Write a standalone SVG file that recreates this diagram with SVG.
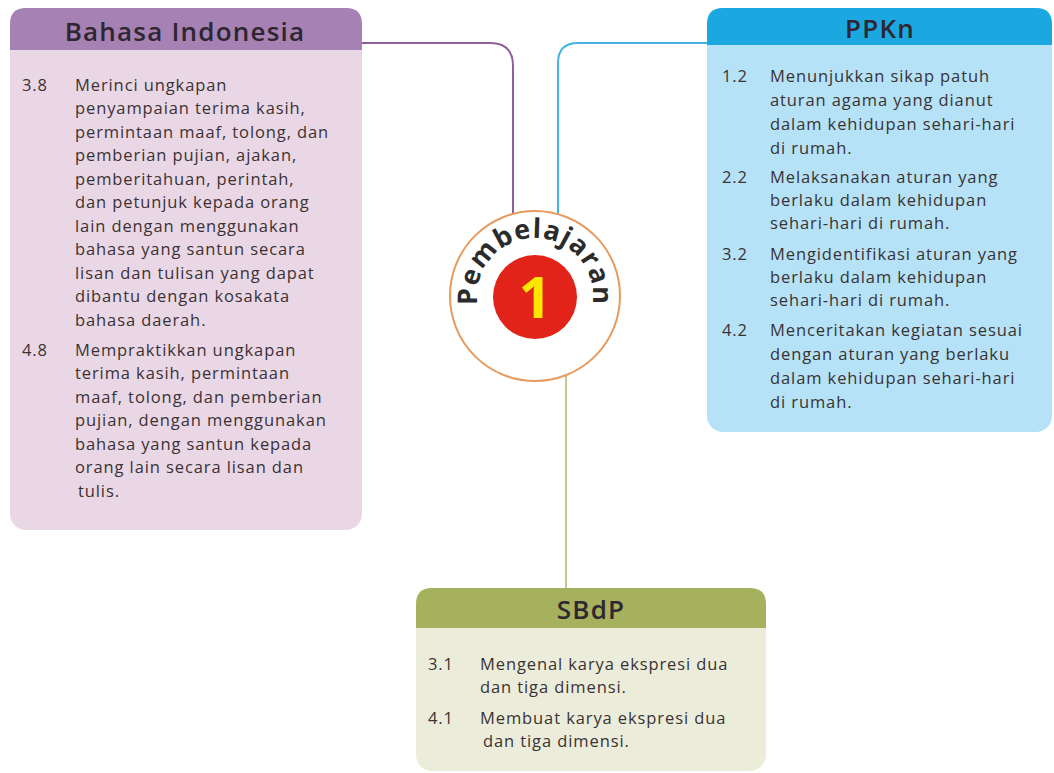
<svg xmlns="http://www.w3.org/2000/svg" width="1054" height="773" viewBox="0 0 1054 773">
<style>
.hd{font-family:"Open Sans","Liberation Sans",sans-serif;font-size:26px;font-weight:600;fill:#2e2630;text-anchor:middle;letter-spacing:1.2px}
.tx{font-family:"Open Sans","Liberation Sans",sans-serif;font-size:16.5px;fill:#3a3234;letter-spacing:0.9px}
.conn{fill:none;stroke-width:2}
</style>
<defs>
<path id="arc" d="M 484.77 325 A 58 58 0 1 1 585.23 325"/>
</defs>
<rect width="1054" height="773" fill="#ffffff"/>
<g id="connectors">
<path class="conn" stroke="#8f5f9c" d="M 362 43 H 490 Q 513 43 513 66 V 218"/>
<path class="conn" stroke="#45b3e2" d="M 707 43 H 578 Q 558 43 558 63 V 215"/>
<path class="conn" stroke="#c7c690" d="M 566 376 V 588"/>
</g>
<g id="bahasa">
<rect x="10" y="8" width="352" height="522" rx="16" fill="#ead7e5"/>
<path d="M 10 50 V 24 Q 10 8 26 8 H 346 Q 362 8 362 24 V 50 Z" fill="#a681b4"/>
<text class="hd" x="185" y="41">Bahasa Indonesia</text>
<g class="tx">
<text x="22" y="91">3.8</text>
<text x="75" y="91">Merinci ungkapan</text>
<text x="75" y="114">penyampaian terima kasih,</text>
<text x="75" y="138">permintaan maaf, tolong, dan</text>
<text x="75" y="161">pemberian pujian, ajakan,</text>
<text x="75" y="185">pemberitahuan, perintah,</text>
<text x="75" y="208">dan petunjuk kepada orang</text>
<text x="75" y="232">lain dengan menggunakan</text>
<text x="75" y="255">bahasa yang santun secara</text>
<text x="75" y="279">lisan dan tulisan yang dapat</text>
<text x="75" y="302">dibantu dengan kosakata</text>
<text x="75" y="326">bahasa daerah.</text>
<text x="22" y="356">4.8</text>
<text x="75" y="356">Mempraktikkan ungkapan</text>
<text x="75" y="379">terima kasih, permintaan</text>
<text x="75" y="403">maaf, tolong, dan pemberian</text>
<text x="75" y="426">pujian, dengan menggunakan</text>
<text x="75" y="450">bahasa yang santun kepada</text>
<text x="75" y="473">orang lain secara lisan dan</text>
<text x="78" y="497">tulis.</text>
</g>
</g>
<g id="ppkn">
<rect x="707" y="8" width="345" height="424" rx="16" fill="#b5e2f6"/>
<path d="M 707 45 V 24 Q 707 8 723 8 H 1036 Q 1052 8 1052 24 V 45 Z" fill="#1ba8e0"/>
<text class="hd" x="880" y="38">PPKn</text>
<g class="tx">
<text x="722" y="82">1.2</text>
<text x="770" y="82">Menunjukkan sikap patuh</text>
<text x="770" y="106">aturan agama yang dianut</text>
<text x="770" y="130">dalam kehidupan sehari-hari</text>
<text x="770" y="154">di rumah.</text>
<text x="722" y="183">2.2</text>
<text x="770" y="183">Melaksanakan aturan yang</text>
<text x="770" y="206">berlaku dalam kehidupan</text>
<text x="770" y="229">sehari-hari di rumah.</text>
<text x="722" y="260">3.2</text>
<text x="770" y="260">Mengidentifikasi aturan yang</text>
<text x="770" y="283">berlaku dalam kehidupan</text>
<text x="770" y="306">sehari-hari di rumah.</text>
<text x="722" y="336">4.2</text>
<text x="770" y="336">Menceritakan kegiatan sesuai</text>
<text x="770" y="360">dengan aturan yang berlaku</text>
<text x="770" y="384">dalam kehidupan sehari-hari</text>
<text x="770" y="408">di rumah.</text>
</g>
</g>
<g id="sbdp">
<rect x="416" y="588" width="350" height="183" rx="16" fill="#ebedda"/>
<path d="M 416 628 V 604 Q 416 588 432 588 H 750 Q 766 588 766 604 V 628 Z" fill="#a6b15e"/>
<text class="hd" x="591" y="619">SBdP</text>
<g class="tx">
<text x="428" y="670">3.1</text>
<text x="480" y="670">Mengenal karya ekspresi dua</text>
<text x="480" y="693">dan tiga dimensi.</text>
<text x="428" y="724">4.1</text>
<text x="480" y="724">Membuat karya ekspresi dua</text>
<text x="483" y="747">dan tiga dimensi.</text>
</g>
</g>
<g id="pembelajaran">
<circle cx="535" cy="296" r="85" fill="#ffffff" stroke="#e79b5e" stroke-width="2"/>
<circle cx="535" cy="297" r="42" fill="#e2231a"/>
<text x="535" y="318" font-family="Open Sans, Liberation Sans, sans-serif" font-size="58" font-weight="700" fill="#ffe600" text-anchor="middle">1</text>
<text font-family="Open Sans, Liberation Sans, sans-serif" font-size="27" font-weight="700" fill="#2b2b2b" letter-spacing="1"><textPath href="#arc" startOffset="50%" text-anchor="middle">Pembelajaran</textPath></text>
</g>
</svg>
